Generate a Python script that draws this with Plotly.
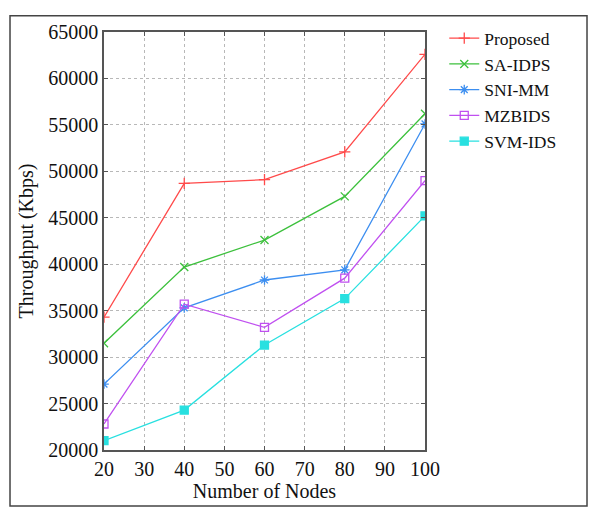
import plotly.graph_objects as go

nodes = [20, 40, 60, 80, 100]
proposed = [34300, 48700, 49100, 52100, 62600]
sa_idps = [31500, 39700, 42600, 47300, 56200]
sni_mm = [27100, 35300, 38300, 39400, 55100]
mzbids = [22800, 35700, 33200, 38500, 49000]
svm_ids = [21000, 24300, 31300, 36300, 45200]

x_ticks = [20, 30, 40, 50, 60, 70, 80, 90, 100]
y_ticks = [20000, 25000, 30000, 35000, 40000, 45000, 50000, 55000, 60000, 65000]

series = [
    ("Proposed", proposed, "#ff4a4a", "cross-thin", 8),
    ("SA-IDPS", sa_idps, "#3cc03c", "x-thin", 8),
    ("SNI-MM", sni_mm, "#3c8ef0", "asterisk-open", 8),
    ("MZBIDS", mzbids, "#c050f0", "square-open", 8),
    ("SVM-IDS", svm_ids, "#28e0e0", "square", 8),
]

fig = go.Figure()
for name, vals, col, sym, sz in series:
    fig.add_trace(go.Scatter(
        x=nodes, y=vals, name=name, mode="lines+markers",
        line=dict(color=col, width=1.3),
        marker=dict(symbol=sym, size=sz, color=col, line=dict(color=col, width=1.3)),
    ))

axis_common = dict(
    showline=True, linecolor="#555555", linewidth=1.5, mirror="ticks",
    ticks="inside", ticklen=4, tickcolor="#555555",
    showgrid=True, gridcolor="#b8b8b8", griddash="dot", gridwidth=1,
    zeroline=False, tickformat="d",
    tickfont=dict(family="Liberation Serif", size=20, color="#111111"),
)

fig.update_layout(
    width=589, height=500,
    margin=dict(l=96, r=172, t=17, b=58),
    paper_bgcolor="white", plot_bgcolor="white",
    font=dict(family="Liberation Serif", color="#111111"),
    xaxis=dict(range=[20, 100], tickvals=x_ticks,
               title=dict(text="Number of Nodes", font=dict(size=20), standoff=0),
               **axis_common),
    yaxis=dict(range=[20000, 65000], tickvals=y_ticks,
               title=dict(text="Throughput (Kbps)", font=dict(size=20), standoff=9),
               **axis_common),
    legend=dict(x=1.06, y=1.028, xanchor="left", yanchor="top",
                font=dict(family="Liberation Serif", size=17.5, color="#111111"),
                bgcolor="rgba(0,0,0,0)", tracegroupgap=0),
    showlegend=True,
    shapes=[dict(type="rect", xref="paper", yref="paper",
                 x0=-0.2928, x1=1.5047, y0=-0.134, y1=1.0388,
                 line=dict(color="#444444", width=1.5), fillcolor="rgba(0,0,0,0)",
                 layer="below")],
)

fig.write_html("out.html")
